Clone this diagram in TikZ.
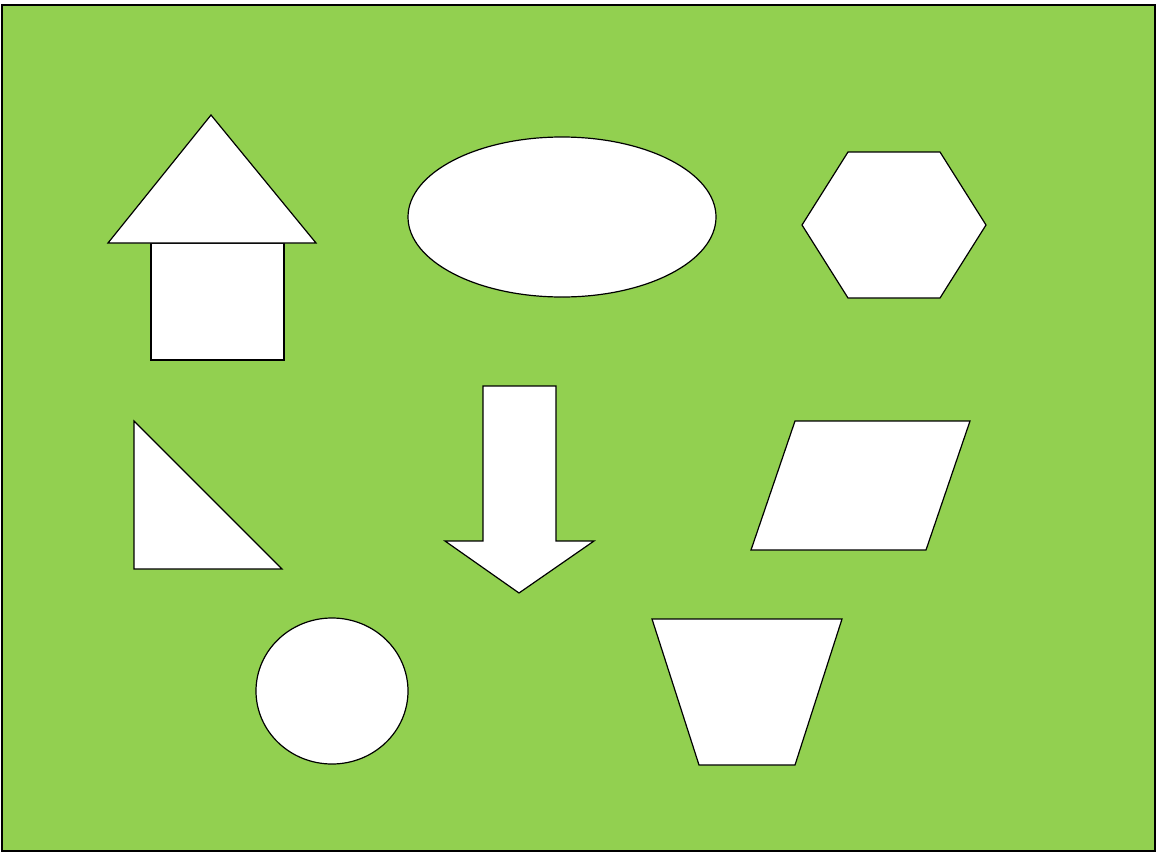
\documentclass[tikz,border=0pt]{standalone}
\definecolor{bggreen}{RGB}{146,208,80}
\begin{document}
\begin{tikzpicture}[x=1pt,y=-1pt,
  shapeline/.style={draw=black,fill=white,line width=1.2pt,line join=miter},
  bgbox/.style={draw=black,fill=bggreen,line width=1.2pt}]
\useasboundingbox (0,0) rectangle (1156,854);
\path[bgbox] (2,5) rectangle (1155,851);
% house
\path[shapeline] (151,243) rectangle (284,360);
\path[shapeline] (108,243) -- (211,115) -- (316,243) -- cycle;
% ellipse
\path[shapeline] (562,217) ellipse [x radius=154, y radius=80];
% hexagon
\path[shapeline] (802,225) -- (848,152) -- (940,152) -- (986,225) -- (940,298) -- (848,298) -- cycle;
% right triangle
\path[shapeline] (134,421) -- (134,569) -- (282,569) -- cycle;
% down arrow
\path[shapeline] (483,386) -- (556,386) -- (556,541) -- (594,541) -- (519,593) -- (445,541) -- (483,541) -- cycle;
% parallelogram
\path[shapeline] (795,421) -- (970,421) -- (926,550) -- (751,550) -- cycle;
% circle
\path[shapeline] (332,691) ellipse [x radius=76, y radius=73];
% trapezoid
\path[shapeline] (652,619) -- (842,619) -- (795,765) -- (699,765) -- cycle;
\end{tikzpicture}
\end{document}
